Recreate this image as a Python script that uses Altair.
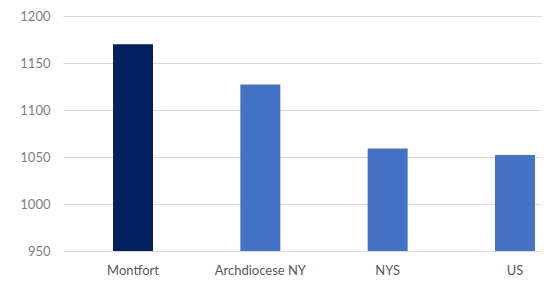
import altair as alt
import pandas as pd

categories = ["Montfort", "Archdiocese NY", "NYS", "US"]
values = [1170, 1127, 1059, 1052]
colors = ["#002060", "#4472C4", "#4472C4", "#4472C4"]
y_ticks = [950, 1000, 1050, 1100, 1150, 1200]

df = pd.DataFrame({"category": categories, "value": values, "color": colors})

chart = alt.Chart(df).mark_bar(clip=True).encode(
    x=alt.X("category:N", sort=categories, title=None,
            scale=alt.Scale(range=[0, 522], paddingInner=0.686, paddingOuter=0.393),
            axis=alt.Axis(labelAngle=0, domain=False, ticks=False, labelPadding=13,
                          labelFontSize=13, labelColor="#595959", labelFont="Lato", grid=False)),
    y=alt.Y("value:Q", title=None,
            scale=alt.Scale(domain=[950, 1200], nice=False, zero=False),
            axis=alt.Axis(values=y_ticks, format="d", domain=False, ticks=False, labelPadding=13,
                          labelFontSize=13, labelColor="#7f7f7f", labelFont="Lato",
                          gridColor="#d9d9d9", gridWidth=1)),
    color=alt.Color("color:N", scale=None),
).properties(
    width=478, height=235,
    autosize=alt.AutoSizeParams(type="none"),
    padding={"left": 55, "top": 8, "right": 0, "bottom": 30},
).configure_view(stroke=None)

chart.save("out.html", embed_options={"renderer": "svg", "actions": False})
